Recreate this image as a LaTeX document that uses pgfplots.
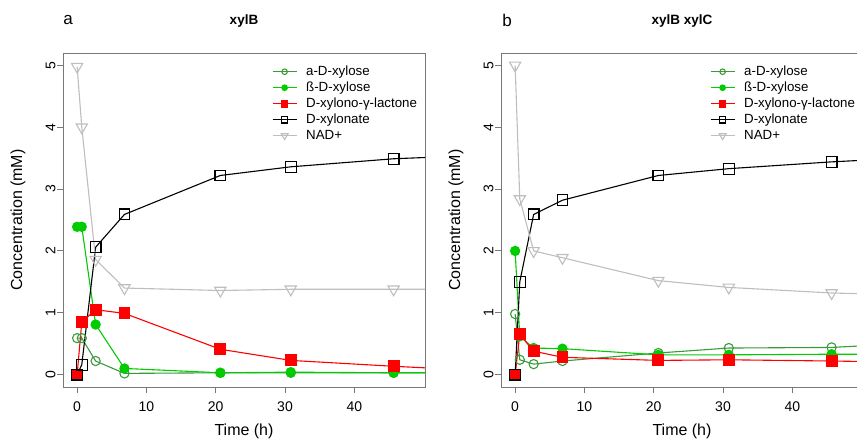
\documentclass[border=0pt]{standalone}
\usepackage{pgfplots}
\pgfplotsset{compat=1.18}
\usepackage{fontspec}
\setmainfont{Liberation Sans}

\definecolor{agreen}{RGB}{58,154,58}
\definecolor{bgreen}{RGB}{0,204,0}
\definecolor{nadgray}{RGB}{190,190,190}
\definecolor{boxgray}{RGB}{120,120,120}

% times (h); the point at 70 h only carries the lines on to the right edge
\pgfplotstableread{
t      ax    bx    lac   xyl   nad
0      0.59  2.39  0.00  0.00  4.98
0.67   0.59  2.39  0.85  0.16  4.00
2.67   0.22  0.81  1.05  2.06  1.86
6.83   0.02  0.10  0.99  2.59  1.40
20.67  0.03  0.03  0.41  3.22  1.36
30.83  0.03  0.04  0.23  3.36  1.38
45.67  0.03  0.03  0.135 3.49  1.38
70     0.03  0.03  0.00  3.60  1.38
}\xylB

\pgfplotstableread{
t      ax    bx    lac   xyl   nad
0      0.98  2.00  0.00  0.00  5.00
0.67   0.24  0.62  0.65  1.50  2.84
2.67   0.17  0.43  0.38  2.59  2.00
6.83   0.22  0.42  0.28  2.82  1.89
20.67  0.35  0.32  0.23  3.22  1.52
30.83  0.43  0.32  0.24  3.33  1.41
45.67  0.44  0.33  0.22  3.44  1.32
70     0.58  0.33  0.18  3.58  1.25
}\xylBC

\pgfplotsset{
  panel/.style={
    scale only axis, width=362pt, height=334pt,
    xmin=-2.04, xmax=50.2, ymin=-0.2, ymax=5.2,
    xtick={0,10,20,30,40}, ytick={0,1,2,3,4,5},
    xtick pos=bottom, ytick pos=left,
    tick align=outside, major tick length=6pt,
    axis line style={boxgray, line width=0.9pt},
    tick style={boxgray, line width=0.9pt},
    /pgf/number format/assume math mode=true,
    ticklabel style={font=\fontsize{14}{16}\selectfont},
    yticklabel style={rotate=90, anchor=south},
    xticklabel shift=5pt, yticklabel shift=-2pt,
    label style={font=\fontsize{16}{19}\selectfont},
    xlabel={Time (h)}, ylabel={Concentration (mM)},
    xlabel style={at={(axis description cs:0.5,-0.1317)}, anchor=center},
    ylabel style={at={(axis description cs:-0.1243,0.5)}, anchor=center},
    title style={font=\bfseries\fontsize{13.5}{16}\selectfont, at={(axis description cs:0.5,1)}, anchor=center, yshift=26pt},
    legend cell align=left,
    legend style={draw=none, fill=none, inner sep=0pt, at={(0.577,0.964)}, anchor=north west,
      font=\fontsize{13.3}{15}\selectfont,
      nodes={inner sep=0pt, text height=10pt, text depth=3pt},
      row sep=3pt,
      /tikz/every odd column/.append style={column sep=9pt}},
    legend image code/.code={
      \draw[mark repeat=2, mark phase=2, ##1, every mark/.append style={scale=0.6}]
        plot coordinates {(0pt,0pt) (12pt,0pt) (24pt,0pt)};},
  },
  aser/.style={agreen, line width=1.1pt, mark=o, mark size=4.6pt},
  bser/.style={bgreen, line width=1.1pt, mark=*, mark size=4.6pt},
  lser/.style={red, line width=1.1pt, mark=square*, mark size=5.4pt},
  xser/.style={black, line width=1.1pt, mark=square, mark size=5.4pt},
  nser/.style={nadgray, line width=1.1pt, mark=triangle, mark size=6.5pt, mark options={rotate=180}},
}

\begin{document}
\begin{tikzpicture}
\begin{axis}[panel, at={(63pt,53pt)}, anchor=south west, title={xylB}]
  \addplot[aser] table[x=t, y=ax] {\xylB};
  \addplot[bser] table[x=t, y=bx] {\xylB};
  \addplot[lser] table[x=t, y=lac] {\xylB};
  \addplot[xser] table[x=t, y=xyl] {\xylB};
  \addplot[nser] table[x=t, y=nad] {\xylB};
  \legend{a-D-xylose, ß-D-xylose, D-xylono-γ-lactone, D-xylonate, NAD+}
\end{axis}
\begin{axis}[panel, at={(501pt,53pt)}, anchor=south west, title={xylB xylC}]
  \addplot[aser] table[x=t, y=ax] {\xylBC};
  \addplot[bser] table[x=t, y=bx] {\xylBC};
  \addplot[lser] table[x=t, y=lac] {\xylBC};
  \addplot[xser] table[x=t, y=xyl] {\xylBC};
  \addplot[nser] table[x=t, y=nad] {\xylBC};
  \legend{a-D-xylose, ß-D-xylose, D-xylono-γ-lactone, D-xylonate, NAD+}
\end{axis}
\node[font=\fontsize{17}{20}\selectfont] at (68pt,420pt) {a};
\node[font=\fontsize{17}{20}\selectfont] at (507pt,420pt) {b};
\pgfresetboundingbox
\useasboundingbox (0pt,0pt) rectangle (857pt,440pt);
\end{tikzpicture}
\end{document}
